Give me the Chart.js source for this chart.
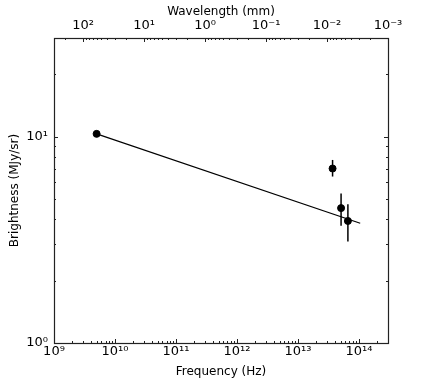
<!DOCTYPE html>
<html>
<head>
<meta charset="utf-8">
<script src="https://cdn.jsdelivr.net/npm/chart.js@4/dist/chart.umd.min.js"></script>
<style>
  html, body { margin: 0; padding: 0; background: #fff; }
  #wrap { width: 431px; height: 381px; }
</style>
</head>
<body>
<div id="wrap"><canvas id="sed"></canvas></div>
<script>
// measured points
let freq = [5e9, 3.7e13, 5.1e13, 6.6e13];
let bright = [10.3, 7.0, 4.5, 3.9];
let errLow = [null, 6.4, 3.7, 3.1];
let errHigh = [null, 7.7, 5.3, 4.7];

// fitted power law
let fitFreq = [5e9, 1.05e14];
let fitBright = [10.3, 3.8];

// axis ticks
let freqTicks = [1e9, 1e10, 1e11, 1e12, 1e13, 1e14];
let waveTicks = [1e2, 1e1, 1e0, 1e-1, 1e-2, 1e-3];
let brightTicks = [1, 10];

let sup = {'-': '⁻', '0': '⁰', '1': '¹', '2': '²', '3': '³', '4': '⁴', '5': '⁵', '6': '⁶', '7': '⁷', '8': '⁸', '9': '⁹'};
let pow10 = function (v) {
    let e = String(Math.round(Math.log10(v)));
    return '10' + e.split('').map(c => sup[c]).join('');
};
let C_MM = 3e11; // c in mm/s

let font = {family: 'DejaVu Sans', size: 12};
let tickFont = {family: 'DejaVu Sans', size: 13};

let datasets = [{
    label: 'data',
    data: freq.map((f, i) => ({x: f, y: bright[i]})),
    showLine: false,
    pointRadius: 3.5,
    pointBackgroundColor: '#000',
    pointBorderColor: '#000',
    order: 0
}, {
    label: 'fit',
    data: fitFreq.map((f, i) => ({x: f, y: fitBright[i]})),
    showLine: true,
    borderColor: '#000',
    borderWidth: 1.2,
    pointRadius: 0,
    order: 1
}];

freq.forEach((f, i) => {
    if (errLow[i] === null) return;
    datasets.push({
        label: 'err' + i,
        data: [{x: f, y: errLow[i]}, {x: f, y: errHigh[i]}],
        showLine: true,
        borderColor: '#000',
        borderWidth: 1.5,
        pointRadius: 0,
        order: 1
    });
});

let frameTicks = {
    id: 'frameTicks',
    afterDraw(chart) {
        let c = chart.ctx, a = chart.chartArea, s = chart.scales;
        c.save();
        c.strokeStyle = '#222';
        c.lineWidth = 1;
        c.beginPath();
        let tick = function (x0, y0, x1, y1) { c.moveTo(x0, y0); c.lineTo(x1, y1); };
        for (let d = 9; d <= 14; d++) {
            for (let k = 1; k <= 9; k++) {
                let v = k * Math.pow(10, d);
                if (v < s.x.min || v > s.x.max) continue;
                let px = Math.round(s.x.getPixelForValue(v)) + 0.5;
                let len = k === 1 ? 4 : 2;
                tick(px, a.bottom, px, a.bottom - len);
            }
        }
        for (let d = -3; d <= 2; d++) {
            for (let k = 1; k <= 9; k++) {
                let v = C_MM / (k * Math.pow(10, d));
                if (v < s.x2.min || v > s.x2.max) continue;
                let px = Math.round(s.x2.getPixelForValue(v)) + 0.5;
                let len = k === 1 ? 4 : 2;
                tick(px, a.top, px, a.top + len);
            }
        }
        for (let d = 0; d <= 1; d++) {
            for (let k = 1; k <= 9; k++) {
                let v = k * Math.pow(10, d);
                if (v < s.y.min || v > s.y.max) continue;
                let py = Math.round(s.y.getPixelForValue(v)) + 0.5;
                let len = k === 1 ? 4 : 2;
                tick(a.left, py, a.left + len, py);
                tick(a.right, py, a.right - len, py);
            }
        }
        c.stroke();
        c.lineWidth = 1.2;
        c.strokeRect(Math.round(a.left) + 0.5, Math.round(a.top) + 0.5,
            Math.round(a.right - a.left), Math.round(a.bottom - a.top));
        c.restore();
    }
};

new Chart(document.getElementById('sed').getContext('2d'), {
    type: 'scatter',
    data: {datasets: datasets},
    options: {
        responsive: true,
        maintainAspectRatio: false,
        animation: false,
        layout: {padding: {left: 0, right: 43, top: 0, bottom: 0}},
        plugins: {legend: {display: false}, tooltip: {enabled: false}},
        scales: {
            x: {
                type: 'logarithmic',
                position: 'bottom',
                min: 1e9,
                max: 3e14,
                grid: {display: false, drawTicks: false},
                border: {display: false},
                afterBuildTicks: s => { s.ticks = freqTicks.map(v => ({value: v})); },
                afterFit: s => { s.height = 38; },
                ticks: {
                    color: '#000', font: tickFont, padding: 1,
                    autoSkip: false, maxRotation: 0,
                    callback: v => pow10(v)
                },
                title: {display: true, text: 'Frequency (Hz)', color: '#000', font: font, padding: {top: 0, bottom: 2}}
            },
            x2: {
                type: 'logarithmic',
                axis: 'x',
                position: 'top',
                min: 1e9,
                max: 3e14,
                grid: {display: false, drawTicks: false},
                border: {display: false},
                afterBuildTicks: s => { s.ticks = waveTicks.map(w => ({value: C_MM / w})); },
                afterFit: s => { s.height = 38; },
                ticks: {
                    color: '#000', font: tickFont, padding: 5,
                    autoSkip: false, maxRotation: 0,
                    callback: v => pow10(C_MM / v)
                },
                title: {display: true, text: 'Wavelength (mm)', color: '#000', font: font, padding: {top: 5, bottom: 0}}
            },
            y: {
                type: 'logarithmic',
                min: 1,
                max: 30,
                grid: {display: false, drawTicks: false},
                border: {display: false},
                afterBuildTicks: s => { s.ticks = brightTicks.map(v => ({value: v})); },
                afterFit: s => { s.width = 54; },
                ticks: {
                    color: '#000', font: tickFont, padding: 6,
                    callback: v => pow10(v)
                },
                title: {display: true, text: 'Brightness (MJy/sr)', color: '#000', font: font, padding: {top: 8, bottom: 0}}
            }
        }
    },
    plugins: [frameTicks]
});
</script>
</body>
</html>
